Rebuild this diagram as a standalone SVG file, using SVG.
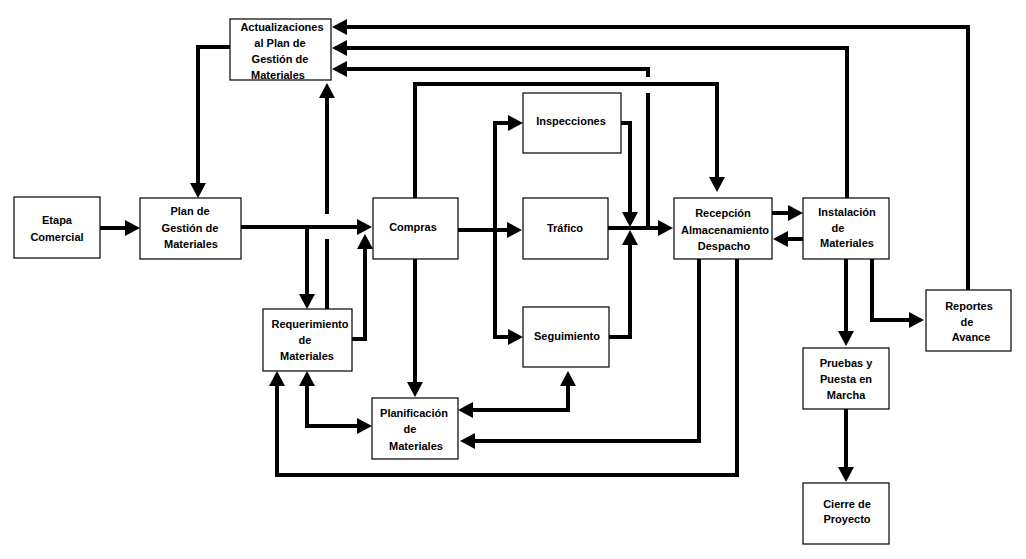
<svg xmlns="http://www.w3.org/2000/svg" width="1026" height="559" viewBox="0 0 1026 559">
<style>
.box{fill:#fff;stroke:#000;stroke-width:1.2}
.t{font-family:"Liberation Sans",Arial,sans-serif;font-weight:bold;font-size:11px;fill:#000;text-anchor:middle}
.c{fill:none;stroke:#000;stroke-width:4;stroke-linejoin:miter;marker-end:url(#ah)}
.d{marker-start:url(#ahs)}
</style>
<defs>
<marker id="ah" markerUnits="userSpaceOnUse" markerWidth="16" markerHeight="16" refX="0" refY="8" orient="auto"><path d="M0,0 L15,8 L0,16 Z" fill="#000"/></marker>
<marker id="ahs" markerUnits="userSpaceOnUse" markerWidth="16" markerHeight="16" refX="0" refY="8" orient="auto-start-reverse"><path d="M0,0 L15,8 L0,16 Z" fill="#000"/></marker>
</defs>
<rect width="1026" height="559" fill="#fff"/>
<g id="connectors">
<path class="c" d="M100,228 H125"/>
<path class="c" d="M241,227 H357"/>
<path class="c" d="M307,227 V294"/>
<path class="c" d="M327,309 V239 M327,214 V98"/>
<path class="c" d="M352,339 H365 V249"/>
<path class="c" d="M415,259 V382"/>
<path class="c" d="M415,198 V84 H717 V177"/>
<path class="c" d="M648,226 V93 M648,77 V69 H347"/>
<path class="c" d="M847,198 V48 H347"/>
<path class="c" d="M968,290 V27 H347"/>
<path class="c" d="M230,47 H198 V183"/>
<path class="c" d="M458,230 H507"/>
<path class="c d" d="M508,123 H495 V337 H508"/>
<path class="c" d="M621,123 H630 V212"/>
<path class="c" d="M608,228 H658"/>
<path class="c" d="M609,337 H630 V245"/>
<path class="c" d="M772,213 H788"/>
<path class="c" d="M803,239 H788"/>
<path class="c" d="M699,259 V441 H475"/>
<path class="c" d="M737,259 V475 H277 V386"/>
<path class="c d" d="M307,386 V426 H357"/>
<path class="c d" d="M473,410 H568 V386"/>
<path class="c" d="M846,259 V331"/>
<path class="c" d="M872,259 V320 H909"/>
<path class="c" d="M846,409 V467"/>
</g>
<g id="etapa"><rect class="box" x="14" y="197" width="86" height="61"/><text class="t" x="57" y="224">Etapa</text><text class="t" x="57" y="241">Comercial</text></g>
<g id="plan"><rect class="box" x="140" y="198" width="101" height="61"/><text class="t" x="190" y="215">Plan de</text><text class="t" x="190" y="232">Gestión de</text><text class="t" x="191" y="248">Materiales</text></g>
<g id="actualizaciones"><rect class="box" x="230" y="19" width="101" height="61"/><text class="t" x="282" y="31">Actualizaciones</text><text class="t" x="280" y="47">al Plan de</text><text class="t" x="280" y="63">Gestión de</text><text class="t" x="278" y="79">Materiales</text></g>
<g id="compras"><rect class="box" x="373" y="198" width="85" height="61"/><text class="t" x="413" y="231">Compras</text></g>
<g id="inspecciones"><rect class="box" x="523" y="93" width="98" height="60"/><text class="t" x="571" y="125">Inspecciones</text></g>
<g id="trafico"><rect class="box" x="523" y="198" width="85" height="61"/><text class="t" x="565" y="232">Tráfico</text></g>
<g id="seguimiento"><rect class="box" x="523" y="307" width="86" height="60"/><text class="t" x="567" y="340">Seguimiento</text></g>
<g id="requerimiento"><rect class="box" x="263" y="309" width="89" height="62"/><text class="t" x="310" y="328">Requerimiento</text><text class="t" x="305" y="344">de</text><text class="t" x="307" y="360">Materiales</text></g>
<g id="planificacion"><rect class="box" x="372" y="398" width="86" height="61"/><text class="t" x="414" y="417">Planificación</text><text class="t" x="410" y="433">de</text><text class="t" x="416" y="450">Materiales</text></g>
<g id="recepcion"><rect class="box" x="674" y="198" width="98" height="61"/><text class="t" x="723" y="217">Recepción</text><text class="t" x="725" y="234">Almacenamiento</text><text class="t" x="724" y="250">Despacho</text></g>
<g id="instalacion"><rect class="box" x="803" y="198" width="86" height="61"/><text class="t" x="847" y="216">Instalación</text><text class="t" x="838" y="232">de</text><text class="t" x="847" y="247">Materiales</text></g>
<g id="reportes"><rect class="box" x="926" y="290" width="85" height="61"/><text class="t" x="969" y="310">Reportes</text><text class="t" x="967" y="326">de</text><text class="t" x="971" y="341">Avance</text></g>
<g id="pruebas"><rect class="box" x="803" y="348" width="86" height="61"/><text class="t" x="846" y="367">Pruebas y</text><text class="t" x="846" y="383">Puesta en</text><text class="t" x="846" y="399">Marcha</text></g>
<g id="cierre"><rect class="box" x="803" y="483" width="86" height="61"/><text class="t" x="847" y="508">Cierre de</text><text class="t" x="847" y="523">Proyecto</text></g>
</svg>
